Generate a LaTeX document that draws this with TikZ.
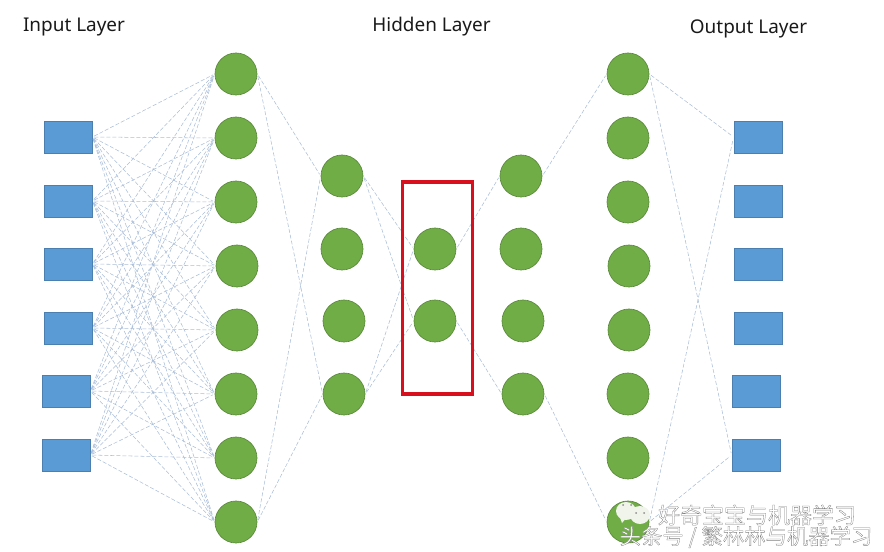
\documentclass[tikz,border=0pt]{standalone}
\usepackage{fontspec}
\setmainfont{Noto Sans}
\newfontfamily\cjk{Noto Sans CJK SC}
\usetikzlibrary{positioning}
\definecolor{boxblue}{HTML}{5B9BD5}
\definecolor{boxedge}{HTML}{4A7FAF}
\definecolor{cellgreen}{HTML}{70AD47}
\definecolor{celledge}{HTML}{5A8A3A}
\definecolor{linkblue}{HTML}{A9BDD8}
\definecolor{framered}{HTML}{D8101E}
\definecolor{markgray}{HTML}{8C8C8C}
\definecolor{bubblewhite}{HTML}{F0F4EA}
\newcommand{\outlined}[1]{\special{pdf:code q 0.5 G 1 g 2 Tr 0.22 w}#1\special{pdf:code Q}}
\begin{document}
\begin{tikzpicture}[
  x=0.75pt, y=-0.75pt,
  inbox/.style={draw=boxedge, fill=boxblue, line width=0.6pt, minimum width=36pt, minimum height=24pt, inner sep=0pt},
  cell/.style={draw=celledge, fill=cellgreen, circle, line width=0.5pt, minimum size=31.5pt, inner sep=0pt},
  link/.style={draw=linkblue, line width=0.4pt, dash pattern=on 3pt off 1.5pt, shorten >=1.5pt, shorten <=1.5pt},
  title/.style={font=\fontsize{14.2}{17}\selectfont, text=black!90, inner sep=0pt, anchor=base},
  wmark/.style={font=\cjk\fontsize{16}{19}\selectfont, inner sep=0pt},
  bubble/.style={fill=bubblewhite},
  eye/.style={fill=markgray, circle, inner sep=0pt, minimum size=1.5pt}
]
\useasboundingbox (0,0) rectangle (884,552);

% input and output boxes
\foreach \i/\x/\y in {1/68/137, 2/68/201, 3/68/264, 4/68/328, 5/66/391, 6/66/455}
  \node[inbox] (in\i) at (\x,\y) {};
\foreach \i/\x/\y in {1/758/137, 2/758/201, 3/758/264, 4/758/328, 5/756/391, 6/756/455}
  \node[inbox] (out\i) at (\x,\y) {};

% circles, layer by layer
\foreach \i/\x/\y in {1/236/74, 2/236/138, 3/236/202, 4/237/266, 5/237/330, 6/236/394, 7/236/458, 8/236/522}
  \node[cell] (a\i) at (\x,\y) {};
\foreach \i/\x/\y in {1/342/176, 2/342/249, 3/344/321, 4/344/394}
  \node[cell] (b\i) at (\x,\y) {};
\foreach \i/\x/\y in {1/435/249, 2/435/321}
  \node[cell] (c\i) at (\x,\y) {};
\foreach \i/\x/\y in {1/521/176, 2/521/249, 3/523/321, 4/523/394}
  \node[cell] (d\i) at (\x,\y) {};
\foreach \i/\x/\y in {1/628/74, 2/628/138, 3/628/202, 4/629/266, 5/629/330, 6/628/394, 7/628/458, 8/628/522}
  \node[cell] (e\i) at (\x,\y) {};

% links
\foreach \i in {1,...,6}
  \foreach \j in {1,...,8}
    \draw[link] (in\i.east) -- (a\j.west);
\foreach \i in {1,8}
  \foreach \j in {1,4}
    \draw[link] (a\i.east) -- (b\j.west);
\foreach \i in {1,4}
  \foreach \j in {1,2}
    \draw[link] (b\i.east) -- (c\j.west);
\draw[link] (c1.east) -- (d1.west);
\draw[link] (c2.east) -- (d4.west);
\draw[link] (d1.east) -- (e1.west);
\draw[link] (d4.east) -- (e8.west);
\foreach \i in {1,8}
  \foreach \j in {1,6}
    \draw[link] (e\i.east) -- (out\j.west);

% frame round the middle layer
\node[draw=framered, line width=2.5pt, minimum width=52.5pt, minimum height=159pt, inner sep=0pt] (frame) at (437.5,288) {};

% titles
\node[title] (intitle) at (74,32) {Input Layer};
\node[title] (hidtitle) at (431.5,32) {Hidden Layer};
\node[title] (outtitle) at (748.5,34) {Output Layer};

% watermark
\fill[bubble] (626,511) ellipse (10 and 9);
\fill[bubble] (619,515) -- (622,523) -- (627,517) -- cycle;
\fill[bubble] (640,515) ellipse (10 and 9);
\foreach \x/\y in {623/505, 631/505, 636/513, 644/513}
  \node[eye] at (\x,\y) {};
\node[wmark] (mark1) at (757,515) {\fontsize{16.5}{19}\selectfont\outlined{好奇宝宝与机器学习}};
\node[wmark] (mark2) at (746,537) {\outlined{头条号 / 繁林林与机器学习}};
\end{tikzpicture}
\end{document}
